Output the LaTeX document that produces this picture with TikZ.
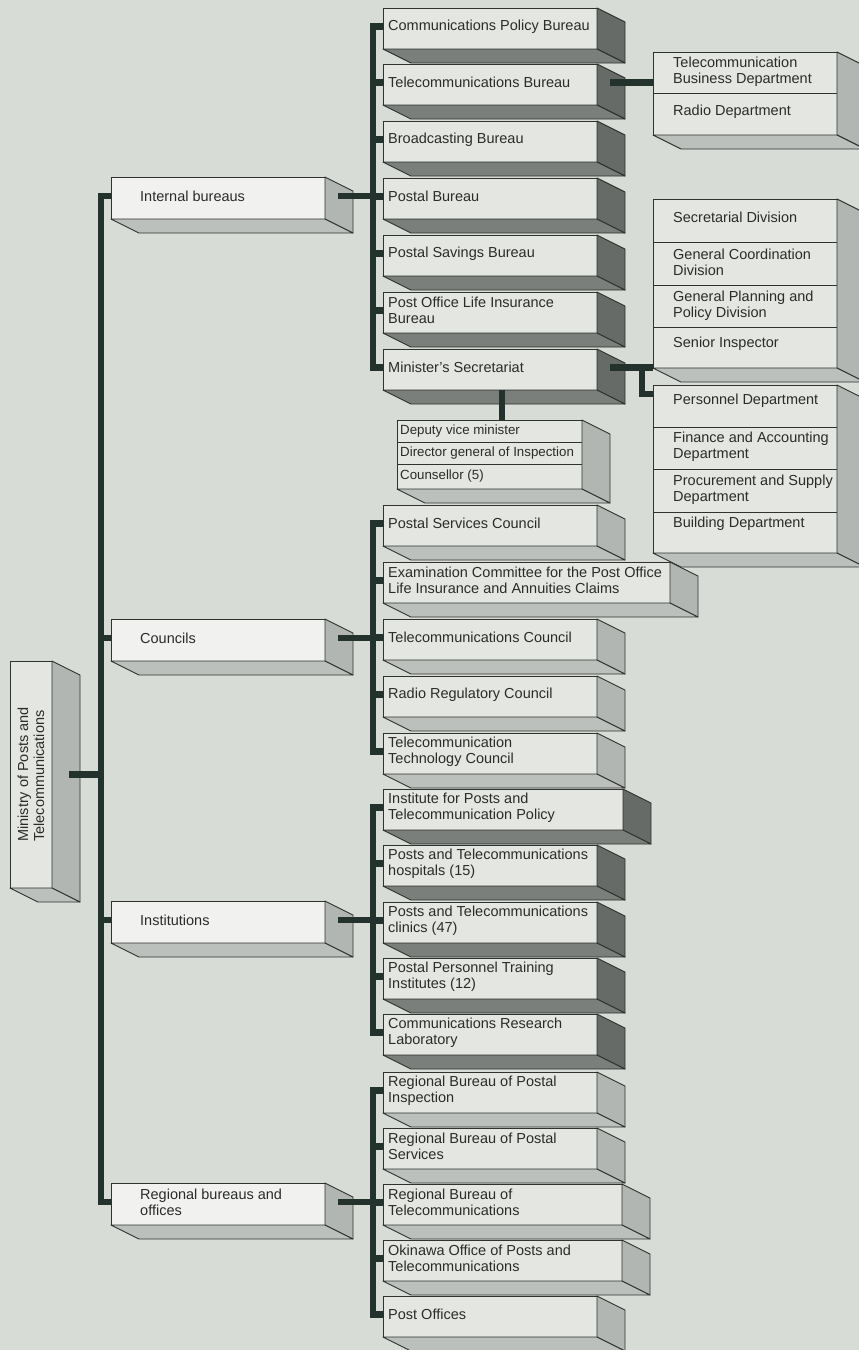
\documentclass[tikz,border=0pt]{standalone}
\usepackage{fontspec}
\setmainfont{Liberation Sans}
\usepackage{tikz}
\usetikzlibrary{calc}
\usetikzlibrary{positioning}

\definecolor{paper}{RGB}{216,220,215}
\definecolor{face}{RGB}{227,230,225}
\definecolor{facehi}{RGB}{241,242,239}
\definecolor{darkside}{RGB}{102,107,103}
\definecolor{darkbot}{RGB}{122,127,123}
\definecolor{lightside}{RGB}{178,182,178}
\definecolor{lightbot}{RGB}{188,192,188}
\definecolor{wire}{RGB}{36,50,45}
\definecolor{edge}{RGB}{48,50,48}
\definecolor{ink}{RGB}{42,44,42}

\tikzset{
  front/.style={draw=edge, fill=face, line width=0.9pt, inner sep=0pt, outer sep=0pt,
    anchor=north west, minimum height=41pt},
  upfront/.style={front, fill=facehi, minimum width=214pt, minimum height=42pt},
  dkside/.style={draw=edge, fill=darkside, line width=0.9pt, line join=round},
  dkbot/.style={draw=edge, fill=darkbot, line width=0.9pt, line join=round},
  ltside/.style={draw=edge, fill=lightside, line width=0.9pt, line join=round},
  ltbot/.style={draw=edge, fill=lightbot, line width=0.9pt, line join=round},
  lbl/.style={anchor=west, inner sep=0pt, align=left, text=ink,
    font=\fontsize{14.5}{16}\selectfont},
  smlbl/.style={lbl, font=\fontsize{13.3}{15}\selectfont},
  divider/.style={draw=edge, line width=0.9pt},
  link/.style={draw=wire, line width=6.8pt},
}

% side and bottom faces of a box node
\newcommand{\slab}[2]{%
  \path[#2side] (#1.north east) -- ++(28,14) -- ([shift={(28,14)}]#1.south east) -- (#1.south east) -- cycle;
  \path[#2bot] (#1.south west) -- ++(28,14) -- ([shift={(28,14)}]#1.south east) -- (#1.south east) -- cycle;
}
% name, x, y, width, shade, text
\newcommand{\bureau}[6]{%
  \node[front, minimum width=#4pt] (#1) at (#2,#3) {};
  \slab{#1}{#5}
  \node[lbl] (#1-t) at ([xshift=5pt,yshift=2pt]#1.west) {#6};
}

\begin{document}
\begin{tikzpicture}[x=1pt,y=-1pt]
\useasboundingbox (0,0) rectangle (859,1350);
\clip (0,0) rectangle (859,1350);
\fill[paper] (0,0) rectangle (859,1350);

\coordinate (spine) at (101,0);
\coordinate (rib) at (373,0);
\coordinate (knee) at (642,0);
\coordinate (drop) at (502,0);

% ministry
\node[front, minimum width=42pt, minimum height=227pt] (mpt) at (10,661) {};
\slab{mpt}{lt}
\node[lbl, rotate=90, anchor=center] (mpt-t) at (mpt.center) {Ministry of Posts and\\Telecommunications};

% second level
\node[upfront] (ibx) at (111,177) {};
\slab{ibx}{lt}
\node[lbl] (ibx-t) at ([xshift=29pt,yshift=2pt]ibx.west) {Internal bureaus};
\node[upfront] (cou) at (111,619) {};
\slab{cou}{lt}
\node[lbl] (cou-t) at ([xshift=29pt,yshift=2pt]cou.west) {Councils};
\node[upfront] (ins) at (111,901) {};
\slab{ins}{lt}
\node[lbl] (ins-t) at ([xshift=29pt,yshift=2pt]ins.west) {Institutions};
\node[upfront] (reg) at (111,1183) {};
\slab{reg}{lt}
\node[lbl] (reg-t) at ([xshift=29pt,yshift=2pt]reg.west) {Regional bureaus and\\offices};

% internal bureaus
\bureau{cpb}{383}{8}{214}{dk}{Communications Policy Bureau}
\bureau{tb}{383}{64}{214}{dk}{Telecommunications Bureau}
\bureau{bb}{383}{121}{214}{dk}{Broadcasting Bureau}
\bureau{pb}{383}{178}{214}{dk}{Postal Bureau}
\bureau{psb}{383}{235}{214}{dk}{Postal Savings Bureau}
\bureau{pol}{383}{292}{214}{dk}{Post Office Life Insurance\\Bureau}
\bureau{ms}{383}{349}{214}{dk}{Minister's Secretariat}

% departments of the telecommunications bureau
\node[front, minimum width=184pt, minimum height=83pt] (tbd) at (653,52) {};
\slab{tbd}{lt}
\draw[divider] (653,93) -- (837,93);
\node[lbl] (tbd-1) at (673,72) {Telecommunication\\Business Department};
\node[lbl] (tbd-2) at (673,112) {Radio Department};

% divisions of the secretariat
\node[front, minimum width=184pt, minimum height=169pt] (sdiv) at (653,199) {};
\slab{sdiv}{lt}
\draw[divider] (653,242) -- (837,242);
\draw[divider] (653,285) -- (837,285);
\draw[divider] (653,327) -- (837,327);
\node[lbl] (sdiv-1) at (673,217) {Secretarial Division};
\node[lbl] (sdiv-2) at (673,262.5) {General Coordination\\Division};
\node[lbl] (sdiv-3) at (673,305.5) {General Planning and\\Policy Division};
\node[lbl] (sdiv-4) at (673,344) {Senior Inspector};

\node[front, minimum width=184pt, minimum height=168pt] (pdiv) at (653,385) {};
\slab{pdiv}{lt}
\draw[divider] (653,427) -- (837,427);
\draw[divider] (653,469) -- (837,469);
\draw[divider] (653,512) -- (837,512);
\node[lbl] (pdiv-1) at (673,401) {Personnel Department};
\node[lbl] (pdiv-2) at (673,447) {Finance and Accounting\\Department};
\node[lbl] (pdiv-3) at (673,490) {Procurement and Supply\\Department};
\node[lbl] (pdiv-4) at (673,524) {Building Department};

% deputies
\node[front, minimum width=185pt, minimum height=69pt] (dep) at (397,420) {};
\slab{dep}{lt}
\draw[divider] (397,442) -- (582,442);
\draw[divider] (397,464) -- (582,464);
\node[smlbl] (dep-1) at (400,431) {Deputy vice minister};
\node[smlbl] (dep-2) at (400,453) {Director general of Inspection};
\node[smlbl] (dep-3) at (400,476) {Counsellor (5)};

% councils
\bureau{psc}{383}{505}{214}{lt}{Postal Services Council}
\bureau{ec}{383}{562}{287}{lt}{Examination Committee for the Post Office\\Life Insurance and Annuities Claims}
\bureau{tc}{383}{619}{214}{lt}{Telecommunications Council}
\bureau{rrc}{383}{676}{214}{lt}{Radio Regulatory Council}
\bureau{ttc}{383}{733}{214}{lt}{Telecommunication\\Technology Council}

% institutions
\bureau{ipt}{383}{789}{240}{dk}{Institute for Posts and\\Telecommunication Policy}
\bureau{pth}{383}{845}{214}{dk}{Posts and Telecommunications\\hospitals (15)}
\bureau{ptc}{383}{902}{214}{dk}{Posts and Telecommunications\\clinics (47)}
\bureau{ppt}{383}{958}{214}{dk}{Postal Personnel Training\\Institutes (12)}
\bureau{crl}{383}{1014}{214}{dk}{Communications Research\\Laboratory}

% regional bureaus and offices
\bureau{rbi}{383}{1072}{214}{lt}{Regional Bureau of Postal\\Inspection}
\bureau{rbs}{383}{1128}{214}{lt}{Regional Bureau of Postal\\Services}
\bureau{rbt}{383}{1184}{239}{lt}{Regional Bureau of\\Telecommunications}
\bureau{oki}{383}{1240}{239}{lt}{Okinawa Office of Posts and\\Telecommunications}
\bureau{po}{383}{1296}{214}{lt}{Post Offices}

% connectors
\draw[link] (mpt.east) ++(17,0) -- (mpt.east -| spine);
\draw[link, line cap=rect] (ibx-t.west -| spine) -- (reg-t.west -| spine);
\foreach \n in {ibx,cou,ins,reg}
  \draw[link] (\n-t.west -| spine) -- (\n-t.west -| \n.west);
\foreach \n in {ibx,cou,ins,reg}
  \draw[link] (\n-t.west -| \n.east) ++(13,0) -- (\n-t.west -| rib);

\draw[link, line cap=rect] (cpb-t.west -| rib) -- (ms-t.west -| rib);
\draw[link, line cap=rect] (psc-t.west -| rib) -- (ttc-t.west -| rib);
\draw[link, line cap=rect] (ipt-t.west -| rib) -- (crl-t.west -| rib);
\draw[link, line cap=rect] (rbi-t.west -| rib) -- (po-t.west -| rib);
\foreach \n in {cpb,tb,bb,pb,psb,pol,ms,psc,ec,tc,rrc,ttc,ipt,pth,ptc,ppt,crl,rbi,rbs,rbt,oki,po}
  \draw[link] (\n-t.west -| rib) -- (\n-t.west -| \n.west);

\draw[link] (tb-t.west -| tb.east) ++(13,0) -- (tb-t.west -| tbd.west);
\draw[link] (ms-t.west -| ms.east) ++(13,0) -- (ms-t.west -| sdiv.west);
\draw[link] (ms-t.west -| knee) |- ([yshift=-9pt]pdiv.north west);
\draw[link] (ms.south -| drop) -- (dep.north -| drop);

\end{tikzpicture}
\end{document}
